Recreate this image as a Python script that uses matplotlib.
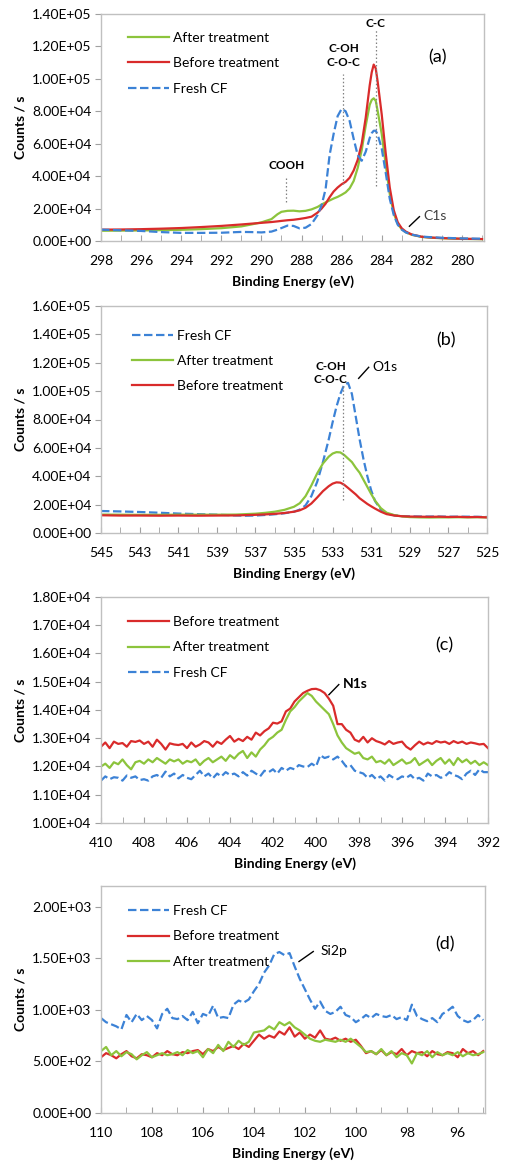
import numpy as np
import matplotlib
matplotlib.use("Agg")
from matplotlib import pyplot as plt
from matplotlib.ticker import MultipleLocator, FuncFormatter, FixedLocator

plt.rcParams['font.family'] = ['Lato', 'DejaVu Sans']

RED = '#d92b2b'
GREEN = '#8cc43c'
BLUE = '#3c82d6'

# ---- (a) C1s ----
xa = [298, 297, 296, 295, 294, 293, 292, 291, 290.5, 290, 289.5, 289.2, 289.0, 288.7, 288.4,
      288.1, 287.8, 287.5, 287.2, 287.0, 286.8, 286.6, 286.4, 286.2, 286.0, 285.8, 285.6, 285.4,
      285.2, 285.0, 284.8, 284.6, 284.5, 284.4, 284.3, 284.2, 284.0, 283.8, 283.6, 283.4, 283.2,
      283.0, 282.8, 282.5, 282.0, 281.5, 281.0, 280.5, 280.0, 279.5, 279.0]
a_before = [7000, 7100, 7300, 7600, 8000, 8600, 9300, 10200, 10700, 11200, 11700, 12100, 12400, 12800, 13100,
            13600, 14200, 15000, 17500, 20000, 23000, 27000, 30500, 33000, 35000, 36500, 39000, 43500,
            50000, 60000, 76000, 96000, 104000, 108800, 106500, 98000, 78000, 54000, 33000, 19000, 11500,
            7800, 5800, 4000, 2600, 2100, 1800, 1600, 1400, 1300, 1200]
a_after = [6300, 6400, 6500, 6700, 6900, 7300, 7900, 9000, 10200, 11500, 13500, 16500, 18000, 18600, 18700,
           18300, 18600, 19500, 21000, 22500, 23800, 25000, 26200, 27200, 28500, 30000, 32500, 37000,
           45000, 56000, 71000, 84000, 87000, 88000, 86500, 80000, 66000, 47000, 29000, 17000, 10500,
           7200, 5400, 3800, 2500, 2000, 1700, 1500, 1300, 1200, 1100]
a_fresh = [7000, 6600, 6200, 5500, 5000, 5000, 5100, 5600, 5500, 5300, 5800, 7000, 8000, 9500, 9300,
           7800, 8200, 10500, 16000, 22000, 32000, 53000, 66000, 77000, 81500, 80000, 74000, 63000,
           53000, 49500, 55000, 63500, 66500, 68000, 68000, 65500, 57000, 42000, 26000, 16000, 10000,
           7000, 5300, 3900, 2700, 2300, 2000, 1800, 1600, 1500, 1400]

# ---- (b) O1s ----
xb = [545, 544, 543, 542, 541, 540, 539, 538, 537.5, 537, 536.5, 536, 535.5, 535, 534.7, 534.4,
      534.1, 533.8, 533.5, 533.2, 533.0, 532.8, 532.6, 532.4, 532.2, 532.0, 531.8, 531.6, 531.4,
      531.2, 531.0, 530.8, 530.5, 530.2, 529.8, 529.4, 529, 528.5, 528, 527.5, 527, 526.5, 526,
      525.5, 525]
b_before = [12500, 12300, 12300, 12200, 12300, 12200, 12300, 12400, 12600, 12800, 13100, 13500, 14100,
            15000, 16000, 17800, 20800, 25000, 29500, 33000, 34800, 35700, 35500, 34000, 31800, 29500,
            27200, 24500, 22500, 20500, 18800, 17200, 15000, 13300, 12300, 11800, 11600, 11500, 11400,
            11500, 11300, 11400, 11200, 11300, 11000]
b_after = [13000, 12900, 12800, 12800, 12900, 12900, 12900, 13000, 13300, 13600, 14200, 15000, 16300,
           18500, 21000, 26000, 33500, 42000, 49000, 53800, 56000, 57000, 56800, 55000, 52500, 50000,
           46000, 42500, 37500, 32500, 27500, 22800, 17500, 14300, 12600, 11700, 11200, 11000, 10900,
           11000, 11000, 11100, 11000, 11100, 11000]
b_fresh = [15500, 15200, 14800, 14300, 13700, 13300, 12900, 12400, 12200, 12300, 12700, 13200, 13900,
           15000, 16500, 19500, 26000, 36000, 50000, 66000, 78000, 89000, 98000, 104500, 105800, 98000,
           82000, 66000, 52000, 40000, 30000, 22500, 16500, 13800, 12400, 11900, 11700, 11600, 11600,
           11600, 11500, 11500, 11500, 11400, 11300]

# ---- (c) N1s ----  (410 -> 392 eV, 0.2 eV step)
xc = np.round(np.arange(410, 391.9, -0.2), 1)
c_before = [12700, 12850, 12650, 12880, 12800, 12830, 12700, 12900, 12870, 12920, 12800, 12880, 12700,
            12950, 12800, 12600, 12820, 12780, 12760, 12800, 12650, 12850, 12700, 12780, 12900, 12850,
            12700, 12880, 12800, 12950, 13080, 12880, 12980, 12900, 13050, 12950, 13200, 13100, 13250,
            13350, 13550, 13520, 13600, 13950, 14050, 14300, 14450, 14600, 14680, 14740, 14750, 14700,
            14600, 14400, 14150, 13500, 13500, 13300, 13200, 12950, 12880, 13050, 12850, 13000, 12900,
            12850, 12780, 12900, 12800, 12850, 12880, 12700, 12600, 12750, 12880, 12780, 12850, 12800,
            12900, 12850, 12880, 12800, 12900, 12830, 12880, 12800, 12850, 12820, 12780, 12800, 12650]
c_after = [12000, 12100, 11950, 12150, 12080, 12250, 12050, 11900, 12150, 12200, 12100, 12250, 12150,
           12300, 12200, 12100, 12250, 12180, 12250, 12100, 12200, 12150, 12250, 12050, 12200, 12300,
           12150, 12250, 12350, 12200, 12400, 12280, 12450, 12550, 12300, 12500, 12350, 12600, 12750,
           12950, 13050, 13200, 13300, 13650, 13950, 14100, 14300, 14450, 14600, 14500, 14300, 14150,
           14000, 13850, 13500, 13100, 12850, 12650, 12550, 12450, 12500, 12300, 12250, 12350, 12150,
           12200, 12100, 12250, 12050, 12150, 12250, 12100, 12150, 12300, 12050, 12150, 12250, 12050,
           12200, 12300, 12100, 12250, 12050, 12300, 12150, 12250, 12100, 12200, 12050, 12150, 12050]
c_fresh = [11500, 11650, 11550, 11620, 11600, 11500, 11680, 11600, 11650, 11520, 11550, 11500, 11650,
           11700, 11600, 11820, 11650, 11750, 11580, 11700, 11600, 11550, 11700, 11850, 11650, 11750,
           11580, 11750, 11650, 11800, 11700, 11750, 11650, 11800, 11680, 11850, 11750, 11650, 11850,
           11800, 11900, 11750, 11950, 11850, 11950, 11900, 12050, 12000, 11980, 12100, 12000, 12400,
           12300, 12350, 12250, 12350, 12200, 12000, 12050, 11850, 11800, 11750, 11600, 11700, 11550,
           11650, 11500, 11700, 11600, 11550, 11650, 11600, 11700, 11550, 11600, 11500, 11750, 11650,
           11700, 11600, 11650, 11800, 11700, 11650, 11550, 11750, 11850, 11700, 11900, 11800, 11800]

# ---- (d) Si2p ----  (110 -> 95 eV, 0.2 eV step)
xd = np.round(np.arange(110, 94.9, -0.2), 1)
d_fresh = [920, 880, 860, 840, 810, 950, 880, 960, 900, 940, 900, 820, 960, 1010, 920, 910, 940, 900,
           980, 870, 960, 940, 1040, 920, 930, 920, 1050, 1090, 1070, 1100, 1180, 1250, 1360, 1430,
           1540, 1560, 1530, 1550, 1420, 1300, 1200, 1100, 1010, 1080, 990, 960, 980, 1030, 950, 930,
           880, 910, 950, 920, 960, 940, 930, 950, 910, 930, 900, 1050, 940, 910, 890, 920, 880, 960,
           990, 1030, 940, 900, 880, 900, 950, 900]
d_before = [540, 580, 560, 530, 570, 600, 550, 530, 570, 560, 540, 580, 560, 600, 570, 560, 590, 580,
            600, 610, 570, 620, 600, 640, 610, 630, 650, 620, 670, 640, 700, 760, 720, 750, 730, 790,
            760, 830, 740, 780, 720, 760, 730, 800, 720, 710, 730, 700, 720, 690, 710, 650, 580, 600,
            570, 610, 560, 590, 570, 620, 560, 600, 580, 590, 550, 600, 570, 560, 590, 580, 540, 620,
            580, 600, 560, 600]
d_after = [600, 640, 560, 600, 550, 590, 570, 520, 560, 590, 540, 560, 580, 560, 570, 590, 560, 610,
           580, 600, 540, 620, 580, 660, 600, 690, 640, 700, 660, 690, 780, 790, 800, 840, 810, 880,
           850, 880, 830, 800, 760, 720, 700, 690, 710, 700, 690, 710, 690, 720, 680, 640, 590, 600,
           570, 620, 560, 600, 540, 580, 560, 480, 580, 560, 600, 540, 590, 560, 580, 560, 590, 550,
           580, 560, 570, 590]

W, H = 506, 1163
fig = plt.figure(figsize=(W / 100, H / 100), dpi=100)


def make_axes(left, top, right, bottom):
    return fig.add_axes([left / W, 1 - bottom / H, (right - left) / W, (bottom - top) / H])


def style(ax, xlim, ylim, ystep, xticks):
    ax.set_xlim(*xlim)
    ax.set_ylim(*ylim)
    ax.xaxis.set_major_locator(FixedLocator(xticks))
    ax.xaxis.set_minor_locator(MultipleLocator(1))
    ax.yaxis.set_major_locator(MultipleLocator(ystep))
    ax.yaxis.set_major_formatter(FuncFormatter(lambda v, p: '{:.2E}'.format(v)))
    ax.xaxis.set_major_formatter(FuncFormatter(lambda v, p: '{:g}'.format(v)))
    for s in ax.spines.values():
        s.set_color('#c0c0c0')
        s.set_linewidth(1.0)
    ax.tick_params(axis='x', which='both', direction='in', length=4, color='#a0a0a0',
                   labelsize=10, pad=10, top=False)
    ax.tick_params(axis='y', which='major', direction='out', length=4, color='#a0a0a0',
                   labelsize=10, pad=3, right=False)
    ax.set_xlabel('Binding Energy (eV)', fontsize=10, fontweight='bold', labelpad=6)
    ax.set_ylabel('Counts / s', fontsize=10, fontweight='bold', labelpad=4)


def legend(ax, handles, x, y):
    ax.legend(handles=handles, loc='upper left', bbox_to_anchor=(x, y), frameon=False,
              fontsize=10, handlelength=2.95, handletextpad=0.3, labelspacing=0.95,
              borderpad=0, borderaxespad=0)


def refline(ax, x, y0, y1):
    ax.plot([x, x], [y0, y1], color='#808080', lw=0.9, ls=(0, (1.2, 1.8)))


DASH = (0, (3.8, 1.6))

# ---- panel (a) ----
ax = make_axes(101, 14, 484, 241)
l_after, = ax.plot(xa, a_after, color=GREEN, lw=1.6, label='After treatment')
l_before, = ax.plot(xa, a_before, color=RED, lw=1.6, label='Before treatment')
l_fresh, = ax.plot(xa, a_fresh, color=BLUE, lw=1.6, ls=DASH, label='Fresh CF')
style(ax, (298, 278.9), (0, 140000), 20000, np.arange(298, 279, -2))
legend(ax, [l_after, l_before, l_fresh], 0.07, 0.92)
refline(ax, 288.75, 24000, 39500)
refline(ax, 285.95, 35000, 103000)
refline(ax, 284.3, 34000, 130000)
ax.text(288.75, 46500, 'COOH', ha='center', va='center', fontsize=8.5, fontweight='bold')
ax.text(285.9, 118500, 'C-OH', ha='center', va='center', fontsize=8.5, fontweight='bold')
ax.text(285.9, 110000, 'C-O-C', ha='center', va='center', fontsize=8.5, fontweight='bold')
ax.text(284.3, 134000, 'C-C', ha='center', va='center', fontsize=8.5, fontweight='bold')
ax.text(281.2, 113000, '(a)', ha='center', va='center', fontsize=13)
ax.plot([282.62, 282.12], [9100, 15000], color='black', lw=1)
ax.text(281.9, 15500, 'C1s', ha='left', va='center', fontsize=10, color='#404040')

# ---- panel (b) ----
ax = make_axes(101, 306, 487, 533)
l_fresh, = ax.plot(xb, b_fresh, color=BLUE, lw=1.6, ls=DASH, label='Fresh CF')
l_after, = ax.plot(xb, b_after, color=GREEN, lw=1.6, label='After treatment')
l_before, = ax.plot(xb, b_before, color=RED, lw=1.6, label='Before treatment')
style(ax, (545, 525), (0, 160000), 20000, np.arange(545, 524, -2))
legend(ax, [l_fresh, l_after, l_before], 0.08, 0.895)
refline(ax, 532.45, 23000, 105000)
ax.text(533.1, 117700, 'C-OH', ha='center', va='center', fontsize=8.5, fontweight='bold')
ax.text(533.1, 108300, 'C-O-C', ha='center', va='center', fontsize=8.5, fontweight='bold')
ax.plot([531.65, 531.13], [109000, 116800], color='black', lw=1)
ax.text(530.95, 117000, 'O1s', ha='left', va='center', fontsize=10)
ax.text(527.1, 136000, '(b)', ha='center', va='center', fontsize=13)

# ---- panel (c) ----
ax = make_axes(101, 597, 488, 823)
l_before, = ax.plot(xc, c_before, color=RED, lw=1.6, label='Before treatment')
l_after, = ax.plot(xc, c_after, color=GREEN, lw=1.6, label='After treatment')
l_fresh, = ax.plot(xc, c_fresh, color=BLUE, lw=1.6, ls=DASH, label='Fresh CF')
style(ax, (410, 392), (10000, 18000), 1000, np.arange(410, 391, -2))
legend(ax, [l_before, l_after, l_fresh], 0.07, 0.915)
ax.plot([399.4, 398.94], [14540, 14900], color='black', lw=1)
ax.text(398.75, 14920, 'N1s', ha='left', va='center', fontsize=10, fontweight='bold')
ax.text(394.05, 16300, '(c)', ha='center', va='center', fontsize=13)

# ---- panel (d) ----
ax = make_axes(101, 886, 485, 1113)
l_fresh, = ax.plot(xd, d_fresh, color=BLUE, lw=1.6, ls=DASH, label='Fresh CF')
l_before, = ax.plot(xd, d_before, color=RED, lw=1.6, label='Before treatment')
l_after, = ax.plot(xd, d_after, color=GREEN, lw=1.6, label='After treatment')
style(ax, (110, 94.93), (0, 2200), 500, np.arange(110, 95, -2))
legend(ax, [l_fresh, l_before, l_after], 0.07, 0.915)
ax.plot([102.23, 101.67], [1468, 1565], color='black', lw=1)
ax.text(101.4, 1570, 'Si2p', ha='left', va='center', fontsize=10)
ax.text(96.5, 1630, '(d)', ha='center', va='center', fontsize=13)

fig.savefig('out.png', dpi=100)
